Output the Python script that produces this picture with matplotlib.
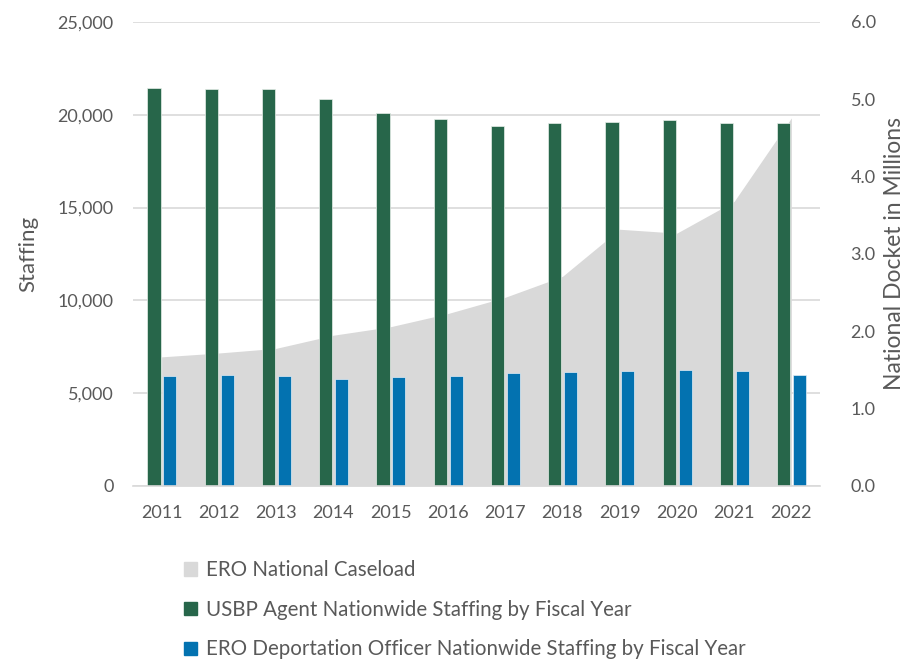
import numpy as np
import matplotlib
matplotlib.use("Agg")
import matplotlib.pyplot as plt
from matplotlib.patches import Patch

plt.rcParams['font.family'] = ['Lato', 'DejaVu Sans']

years = ["2011", "2012", "2013", "2014", "2015", "2016",
         "2017", "2018", "2019", "2020", "2021", "2022"]
usbp_staff = [21444, 21394, 21391, 20863, 20105, 19780,
              19387, 19533, 19600, 19740, 19536, 19536]
ero_staff = [5940, 5994, 5940, 5742, 5868, 5940,
             6066, 6120, 6192, 6264, 6192, 5976]
caseload = [1.67, 1.72, 1.78, 1.95, 2.06, 2.23,
            2.44, 2.71, 3.32, 3.27, 3.68, 4.76]  # millions

green = "#27664A"
blue = "#0372B0"
grey_area = "#D9D9D9"
text_c = "#595959"
LEFT_MAX, RIGHT_MAX = 25000, 6.0

fig = plt.figure(figsize=(9.06, 6.59), dpi=100)
ax = fig.add_axes([133/906, 1-486/659, 687/906, 464/659])

x = np.arange(len(years))
scale = LEFT_MAX / RIGHT_MAX
ax.fill_between(x, np.array(caseload) * scale, 0, color=grey_area, lw=0, zorder=1)
ax.bar(x - 0.133, usbp_staff, width=0.232, color=green, edgecolor="#E8EFEA", lw=0.5, zorder=2)
ax.bar(x + 0.145, ero_staff, width=0.228, color=blue, edgecolor="#E3EEF6", lw=0.5, zorder=2)

ax.set_xlim(-0.5, len(years) - 0.5)
ax.set_ylim(0, LEFT_MAX)
ax.set_yticks(np.arange(0, 25001, 5000))
ax.set_yticklabels([f"{v:,}" for v in range(0, 25001, 5000)])
ax.set_xticks(x)
ax.set_xticklabels(years)
ax.yaxis.grid(True, color="#D9D9D9", lw=1.2, zorder=0)
ax.set_axisbelow(True)
for s in ["top", "right", "left"]:
    ax.spines[s].set_visible(False)
ax.spines["bottom"].set_color("#D9D9D9")
ax.spines["bottom"].set_linewidth(1.2)
ax.tick_params(axis="both", length=0, labelsize=13, colors=text_c)
ax.tick_params(axis="y", pad=14)
ax.tick_params(axis="x", pad=14)
ax.set_ylabel("Staffing", fontsize=16, color=text_c, labelpad=14)

sec = ax.secondary_yaxis("right", functions=(lambda v: v / scale, lambda v: v * scale))
sec.set_yticks(np.arange(0, 6.01, 1.0))
sec.set_yticklabels([f"{v:.1f}" for v in np.arange(0, 6.01, 1.0)])
sec.spines["right"].set_visible(False)
sec.tick_params(length=0, labelsize=13, colors=text_c, pad=22)
sec.set_ylabel("National Docket in Millions", fontsize=16.5, color=text_c, labelpad=6)

handles = [Patch(color=grey_area), Patch(color=green), Patch(color=blue)]
labels = ["ERO National Caseload",
          "USBP Agent Nationwide Staffing by Fiscal Year",
          "ERO Deportation Officer Nationwide Staffing by Fiscal Year"]
fig.legend(handles, labels, loc="upper left", bbox_to_anchor=(176/906, 1-552/659),
           frameon=False, fontsize=14.8, labelcolor=text_c, handlelength=0.6,
           handleheight=0.6, handletextpad=0.45, labelspacing=0.95, borderaxespad=0)

fig.savefig("out.png", dpi=100)
